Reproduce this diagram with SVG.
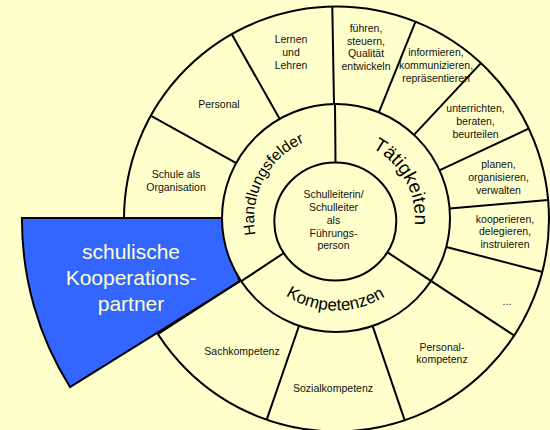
<svg xmlns="http://www.w3.org/2000/svg" width="550" height="430" viewBox="0 0 550 430">
<style>
.ring{fill:#ffffcc;stroke:#000;stroke-width:2}
.div{stroke:#000;stroke-width:2;fill:none}
.t{font-family:"Liberation Sans",Arial,sans-serif;font-size:10.5px;fill:#111;text-anchor:middle}
.big{font-family:"Liberation Sans",Arial,sans-serif;fill:#000}
.blue{font-family:"Liberation Sans",Arial,sans-serif;font-size:21px;fill:#ffffcc;text-anchor:middle}
</style>
<defs>
<path id="pH" d="M266.5,262 A83,83 0 0 1 333.1,135.5"/>
<path id="pT" d="M337.4,139.5 A79,79 0 0 1 403.7,259.2"/>
<path id="pK" d="M276.3,288.5 A92,92 0 0 0 394.5,289.5"/>
</defs>
<rect width="550" height="430" fill="#ffffcc"/>
<g id="outer-ring">
<circle class="ring" cx="336.5" cy="219" r="212.5"/>
</g>
<g id="partner">
<path d="M22,218 L222,218 L239.5,281.5 L70,387 A314,314 0 0 1 22,218 Z" fill="#3366ff" stroke="#000" stroke-width="2"/>
<text class="blue" x="131" y="259">schulische</text>
<text class="blue" x="131" y="285">Kooperations-</text>
<text class="blue" x="131" y="310.5">partner</text>
</g>
<g id="connectors">
<g transform="translate(336 218.5)">
<line class="div" x1="114" y1="0" x2="212.5" y2="0" transform="rotate(209)"/>
<line class="div" x1="114" y1="0" x2="212.5" y2="0" transform="rotate(240.5)"/>
<line class="div" x1="114" y1="0" x2="212.5" y2="0" transform="rotate(269)"/>
<line class="div" x1="114" y1="0" x2="212.5" y2="0" transform="rotate(292)"/>
<line class="div" x1="114" y1="0" x2="212.5" y2="0" transform="rotate(313)"/>
<line class="div" x1="114" y1="0" x2="212.5" y2="0" transform="rotate(335)"/>
<line class="div" x1="114" y1="0" x2="212.5" y2="0" transform="rotate(355)"/>
<line class="div" x1="114" y1="0" x2="212.5" y2="0" transform="rotate(14.5)"/>
<line class="div" x1="114" y1="0" x2="212.5" y2="0" transform="rotate(33.3)"/>
<line class="div" x1="114" y1="0" x2="212.5" y2="0" transform="rotate(71.2)"/>
<line class="div" x1="114" y1="0" x2="212.5" y2="0" transform="rotate(109)"/>
<line class="div" x1="114" y1="0" x2="212.5" y2="0" transform="rotate(147)"/>
</g>
</g>
<g id="middle-ring">
<circle class="ring" cx="336" cy="218" r="114"/>
<g transform="translate(336 218.5)">
<line class="div" x1="50" y1="0" x2="114" y2="0" transform="rotate(269.5)"/>
<line class="div" x1="50" y1="0" x2="114" y2="0" transform="rotate(33.3)"/>
<line class="div" x1="50" y1="0" x2="114" y2="0" transform="rotate(146.5)"/>
</g>
</g>
<g id="center">
<ellipse class="ring" cx="335.3" cy="221.5" rx="61" ry="59"/>
<text class="t" x="333.5" y="197.8">Schulleiterin/</text>
<text class="t" x="333.5" y="210.7">Schulleiter</text>
<text class="t" x="333.5" y="223.6">als</text>
<text class="t" x="333.5" y="236.5">Führungs-</text>
<text class="t" x="333.5" y="249.4">person</text>
</g>
<g id="handlungsfelder">
<text class="big" font-size="15.5" text-anchor="middle"><textPath href="#pH" startOffset="50%">Handlungsfelder</textPath></text>
</g>
<g id="taetigkeiten">
<text class="big" font-size="19" text-anchor="middle"><textPath href="#pT" startOffset="50%">Tätigkeiten</textPath></text>
</g>
<g id="kompetenzen">
<text class="big" font-size="17" text-anchor="middle"><textPath href="#pK" startOffset="50%">Kompetenzen</textPath></text>
</g>
<g id="schule-als-organisation">
<text class="t" x="176" y="178">Schule als</text>
<text class="t" x="176" y="190.5">Organisation</text>
</g>
<g id="personal">
<text class="t" x="219" y="108">Personal</text>
</g>
<g id="lernen-und-lehren">
<text class="t" x="291" y="43">Lernen</text>
<text class="t" x="291" y="56">und</text>
<text class="t" x="291" y="68.8">Lehren</text>
</g>
<g id="fuehren">
<text class="t" x="366" y="32">führen,</text>
<text class="t" x="366" y="44.5">steuern,</text>
<text class="t" x="366" y="57">Qualität</text>
<text class="t" x="366" y="69.5">entwickeln</text>
</g>
<g id="informieren">
<text class="t" x="436" y="56">informieren,</text>
<text class="t" x="436" y="69">kommunizieren,</text>
<text class="t" x="436" y="81.5">repräsentieren</text>
</g>
<g id="unterrichten">
<text class="t" x="475.5" y="112">unterrichten,</text>
<text class="t" x="475.5" y="124.8">beraten,</text>
<text class="t" x="475.5" y="137.6">beurteilen</text>
</g>
<g id="planen">
<text class="t" x="498.5" y="168">planen,</text>
<text class="t" x="498.5" y="181">organisieren,</text>
<text class="t" x="498.5" y="193.8">verwalten</text>
</g>
<g id="kooperieren">
<text class="t" x="505" y="222.7">kooperieren,</text>
<text class="t" x="505" y="235.2">delegieren,</text>
<text class="t" x="505" y="247.5">instruieren</text>
</g>
<g id="weitere">
<text class="t" x="507" y="305">...</text>
</g>
<g id="personalkompetenz">
<text class="t" x="442" y="350.5">Personal-</text>
<text class="t" x="442" y="363">kompetenz</text>
</g>
<g id="sozialkompetenz">
<text class="t" x="333" y="392">Sozialkompetenz</text>
</g>
<g id="sachkompetenz">
<text class="t" x="242" y="354.5">Sachkompetenz</text>
</g>
</svg>
